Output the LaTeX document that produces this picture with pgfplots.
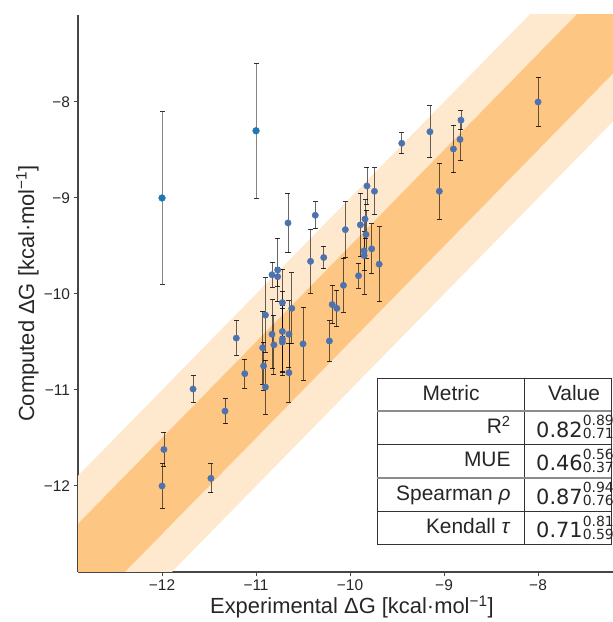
\documentclass[border=0pt]{standalone}
\usepackage{pgfplots}
\pgfplotsset{compat=1.18}
\usepackage{pgfplotstable}
\usepackage{fontspec}
\setmainfont{Liberation Sans}
\newfontfamily\dejavu{DejaVu Sans}
\definecolor{bandlight}{RGB}{254,232,206}
\definecolor{banddark}{RGB}{253,198,130}
\definecolor{ptblue}{RGB}{76,114,176}
\definecolor{outblue}{RGB}{31,119,180}
\definecolor{spine}{RGB}{70,70,70}
\definecolor{tabline}{RGB}{50,50,50}

\pgfplotstableread{
x y e
-11.67 -10.99 0.14
-11.33 -11.22 0.13
-11.12 -10.83 0.15
-11.98 -11.62 0.18
-12.00 -12.00 0.23
-11.48 -11.92 0.15
-11.21 -10.46 0.18
-10.93 -10.56 0.38
-10.92 -10.75 0.25
-10.90 -10.97 0.28
-10.90 -10.22 0.39
-10.83 -10.42 0.36
-10.81 -10.53 0.31
-10.72 -10.09 0.35
-10.72 -10.39 0.42
-10.72 -10.47 0.35
-10.72 -10.50 0.35
-10.65 -10.42 0.35
-10.65 -10.82 0.31
-10.62 -10.15 0.37
-10.50 -10.52 0.38
-10.66 -9.26 0.31
-10.37 -9.18 0.14
-10.42 -9.66 0.33
-10.28 -9.62 0.115
-10.83 -9.80 0.13
-10.77 -9.75 0.33
-10.77 -9.82 0.10
-10.22 -10.49 0.21
-10.05 -9.33 0.29
-9.82 -8.875 0.195
-9.74 -8.93 0.245
-9.05 -8.93 0.29
-9.89 -9.28 0.33
-9.84 -9.22 0.20
-9.83 -9.38 0.25
-9.85 -9.55 0.20
-9.85 -9.60 0.40
-9.77 -9.53 0.26
-9.69 -9.69 0.39
-9.91 -9.81 0.13
-10.07 -9.91 0.28
-10.19 -10.11 0.20
-10.14 -10.15 0.19
-9.45 -8.43 0.11
-9.15 -8.31 0.27
-8.82 -8.19 0.10
-8.83 -8.39 0.22
-8.90 -8.49 0.245
-8.00 -8.00 0.255
}\datamain

\pgfplotstableread{
x y e
-12 -9.0 0.9
-11 -8.3 0.7
}\dataout

\newcommand{\val}[3]{{\dejavu\fontsize{21}{21}\selectfont #1}\rlap{\raisebox{11.5bp}{\dejavu\fontsize{14}{14}\selectfont #2}}\raisebox{-1.5bp}{\dejavu\fontsize{14}{14}\selectfont #3}}

\begin{document}
\begin{tikzpicture}
\useasboundingbox (-78bp,-50bp) rectangle (535bp,572bp);
\begin{axis}[
  anchor=south west, at={(0,0)},
  x=94bp, y=96bp,
  xmin=-12.894, xmax=-7.2025,
  ymin=-12.896, ymax=-7.094,
  axis x line*=bottom, axis y line*=left,
  axis line style={-, spine, line width=1.1bp},
  xtick={-12,-11,-10,-9,-8}, ytick={-12,-11,-10,-9,-8},
  xticklabels={−12,−11,−10,−9,−8},
  yticklabels={−12,−11,−10,−9,−8},
  tick align=outside, major tick length=4.5bp,
  tick style={spine, line width=1bp},
  ticklabel style={font=\fontsize{15.5}{15.5}\selectfont, text=black!85},
  xlabel={Experimental ΔG [kcal·mol\textsuperscript{−1}]},
  ylabel={Computed ΔG [kcal·mol\textsuperscript{−1}]},
  label style={font=\fontsize{22}{22}\selectfont, text=black!85},
  xlabel style={at={(axis description cs:0.512,-0.0754)}, anchor=base},
  ylabel style={at={(axis description cs:-0.0822,0.5)}, anchor=base},
]
\addplot[fill=bandlight, draw=none] coordinates {(-14,-13) (-6,-5) (-6,-7) (-14,-15)} -- cycle;
\addplot[fill=banddark, draw=none] coordinates {(-14,-13.5) (-6,-5.5) (-6,-6.5) (-14,-14.5)} -- cycle;
\addplot[only marks, mark=*, mark size=3.2bp, mark options={fill=ptblue, draw=ptblue},
  error bars/.cd, y dir=both, y explicit,
  error bar style={black, opacity=0.6, line width=0.8bp},
  error mark options={black, opacity=0.8, mark size=2.5bp, line width=0.8bp, rotate=90}]
  table[x=x, y=y, y error=e] {\datamain};
\addplot[only marks, mark=*, mark size=3.4bp, mark options={fill=outblue, draw=outblue},
  error bars/.cd, y dir=both, y explicit,
  error bar style={black!60, opacity=0.8, line width=0.8bp},
  error mark options={black, opacity=0.8, mark size=2.5bp, line width=0.8bp, rotate=90}]
  table[x=x, y=y, y error=e] {\dataout};
\end{axis}
% metrics table
\fill[white] (299bp,28bp) rectangle (533bp,194bp);
\draw[tabline, line width=0.9bp] (299bp,28bp) rectangle (533bp,194bp);
\draw[tabline, line width=0.9bp] (446bp,28bp) -- (446bp,194bp);
\draw[black!45, line width=1.6bp] (299bp,161bp) -- (533bp,161bp);
\draw[tabline, line width=0.9bp] (299bp,128bp) -- (533bp,128bp);
\draw[black!45, line width=1.6bp] (299bp,94bp) -- (533bp,94bp);
\draw[tabline, line width=0.9bp] (299bp,61bp) -- (533bp,61bp);
\begin{scope}[every node/.style={inner sep=0pt, font=\fontsize{21}{21}\selectfont, text=black!85}]
\node[anchor=base] at (373bp,171.5bp) {Metric};
\node[anchor=base] at (496bp,171.5bp) {Value};
\node[anchor=base east] at (432.7bp,138.5bp) {R\textsuperscript{2}};
\node[anchor=base east] at (432.7bp,105bp) {MUE};
\node[anchor=base east] at (432.7bp,71.5bp) {Spearman \textit{ρ}};
\node[anchor=base east] at (432.7bp,38.5bp) {Kendall \textit{τ}};
\node[anchor=base west] at (458bp,134.5bp) {\val{0.82}{0.89}{0.71}};
\node[anchor=base west] at (458bp,101bp) {\val{0.46}{0.56}{0.37}};
\node[anchor=base west] at (458bp,67.5bp) {\val{0.87}{0.94}{0.76}};
\node[anchor=base west] at (458bp,34.5bp) {\val{0.71}{0.81}{0.59}};
\end{scope}
\end{tikzpicture}
\end{document}
